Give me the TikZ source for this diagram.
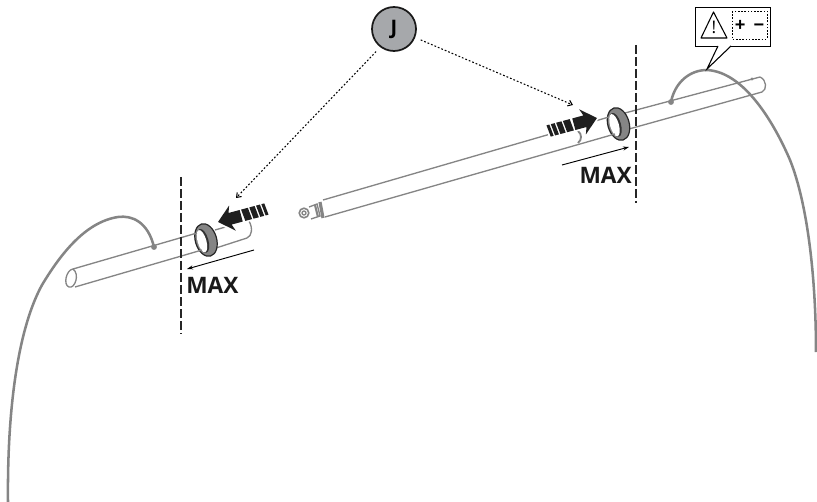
\documentclass[tikz,border=0pt]{standalone}
\usepackage{fontspec}
\setmainfont{Open Sans}
\usetikzlibrary{positioning,shapes,arrows.meta}
\definecolor{partgray}{HTML}{858585}
\definecolor{dotgray}{HTML}{A6A8AB}
\tikzset{
    tubeline/.style={draw=partgray, line width=1pt},
    hose/.style={draw=partgray, line width=1.9pt},
    cutline/.style={draw=black!85, line width=1pt, dash pattern=on 7pt off 2pt},
    leader/.style={draw=black, line width=.8pt, dash pattern=on 1.3pt off 1.5pt, shorten <=4.5pt, -{Straight Barb[length=3pt,width=4.5pt]}},
    maxarrow/.style={draw=black, line width=.7pt, -{Stealth[length=4.5pt,width=3pt]}},
    maxlabel/.style={font=\fontsize{17}{17}\selectfont\bfseries, text=black!90, inner sep=0pt},
    ringpart/.pic={
        \fill [partgray, draw=black!85, line width=.9pt] (0,0) ellipse (8pt and 12.5pt);
        \fill [black!80] (-3,0) ellipse (4pt and 9.2pt);
        \fill [white] (-4.2,0) ellipse (3.3pt and 8.6pt);
    },
    pushmark/.pic={
        \fill [white, draw=white, line width=2.5pt] (0,0) -- (14,-13) -- (14,13) -- cycle;
        \fill [white, draw=white, line width=2.5pt] (10,-6) rectangle (50,6);
        \fill [black!88] (0,0) -- (15,-13) -- (12.5,-6) -- (24,-6) -- (24,6) -- (12.5,6) -- (15,13) -- cycle;
        \foreach \a/\b in {25.5/7, 34/5.5, 41/4, 46.5/3}
            \fill [black!88] (\a,-6) -- ++(\b,0) -- ++(1.2,12) -- ++(-\b,0) -- cycle;
    },
}
\begin{document}
\begin{tikzpicture}[x=.75pt,y=-.75pt]
    \useasboundingbox (0,0) rectangle (817,502);
    % left tube
    \draw [tubeline] (215,230) -- (250,220);
    \draw [tubeline] (216,248) -- (247,238) .. controls (252,236) and (253,228) .. (249,221);
    \pic [rotate=16] at (206,240) {ringpart};
    \draw [tubeline] (73,269) -- (197,233);
    \draw [tubeline] (75,287) -- (202,250);
    \draw [tubeline] (73,269) .. controls (66,270) and (63,285) .. (69,287) .. controls (75,289) and (80,274) .. (73,269);
    \draw [hose] (154,247) .. controls (148,222) and (132,215) .. (118,217) .. controls (85,222) and (60,255) .. (42,285) .. controls (20,325) and (7,400) .. (8,502);
    \fill [partgray] (154,247) circle (2.2pt);
    % right tube
    \draw [tubeline] (625,113) -- (760,77);
    \draw [tubeline] (629,129) -- (762,92) .. controls (767,90) and (767,80) .. (760,77);
    \fill [partgray] (752,79) circle (1.2pt);
    \pic [rotate=16] at (618.5,124) {ringpart};
    \draw [tubeline] (323,200) -- (609,117);
    \draw [tubeline] (325,217) -- (615,134);
    \draw [hose] (671,102) .. controls (675,82) and (690,70) .. (707,70) .. controls (745,72) and (775,125) .. (790,160) .. controls (808,205) and (816,280) .. (816,352);
    \fill [partgray] (671,102) circle (2.2pt);
    % nose of the tube
    \draw [draw=partgray, line width=2.4pt] (320,202) -- (323,218);
    \draw [tubeline, fill=white] (309,207) -- (317,204) -- (320,216) -- (311,219);
    \draw [tubeline, line width=1.6pt] (315,205) -- (318,217);
    \draw [tubeline, fill=white, line width=1.2pt] (304,213) circle (3.6pt);
    \draw [tubeline] (304,213) circle (1.5pt);
    % small mark
    \draw [tubeline, line width=1.4pt] (578,131) .. controls (582,134) and (582,140) .. (578,143);
    % cut lines
    \draw [cutline] (181,177) -- (181,334);
    \draw [cutline] (636,45) -- (636,203);
    % max arrows and labels
    \coordinate (maxLa) at (254,250);
    \coordinate (maxLb) at (187,269);
    \coordinate (maxRa) at (562,165);
    \coordinate (maxRb) at (629,147);
    \draw [maxarrow] (maxLa) -- (maxLb);
    \draw [maxarrow] (maxRa) -- (maxRb);
    \node [maxlabel, anchor=west] (maxL) at (186,285.5) {MAX};
    \node [maxlabel, anchor=east] (maxR) at (632,175) {MAX};
    % push arrows
    \pic [rotate=15] at (218,222) {pushmark};
    \pic [rotate=195] at (597,118) {pushmark};
    % callout
    \node [draw=black, line width=.8pt, fill=white, minimum width=56pt, minimum height=29.5pt, inner sep=0pt, anchor=north west] (callout) at (695,7) {};
    \coordinate (calloutTip) at (707,69);
    \coordinate (calloutA) at (718,46);
    \coordinate (calloutB) at (731,46);
    \fill [white] (calloutA) -- (calloutTip) -- (calloutB) -- cycle;
    \draw [black, line width=.8pt] (calloutA) -- (calloutTip) -- (calloutB);
    \draw [black, line width=.8pt, line join=round] (701,38) -- (713.5,12) -- (727,38) -- cycle;
    \node [font=\fontsize{13}{13}\selectfont, inner sep=0pt] (warnmark) at (714,27.5) {!};
    \draw [black, line width=.7pt, dash pattern=on 1.2pt off 1.2pt] (732,11) rectangle (767,39);
    \node [font=\fontsize{14}{14}\selectfont\bfseries, inner sep=0pt] (plusminus) at (749.5,26) {+\hspace{6pt}−};
    % badge
    \node [circle, draw=black!90, line width=1.3pt, fill=dotgray, minimum size=33pt, inner sep=0pt, font=\fontsize{15}{15}\selectfont\bfseries] (badge) at (394,29) {J};
    \coordinate (leadL) at (236,198);
    \coordinate (leadR) at (573,105);
    \draw [leader] (badge.233) -- (leadL);
    \draw [leader] (badge.338) -- (leadR);
\end{tikzpicture}
\end{document}
